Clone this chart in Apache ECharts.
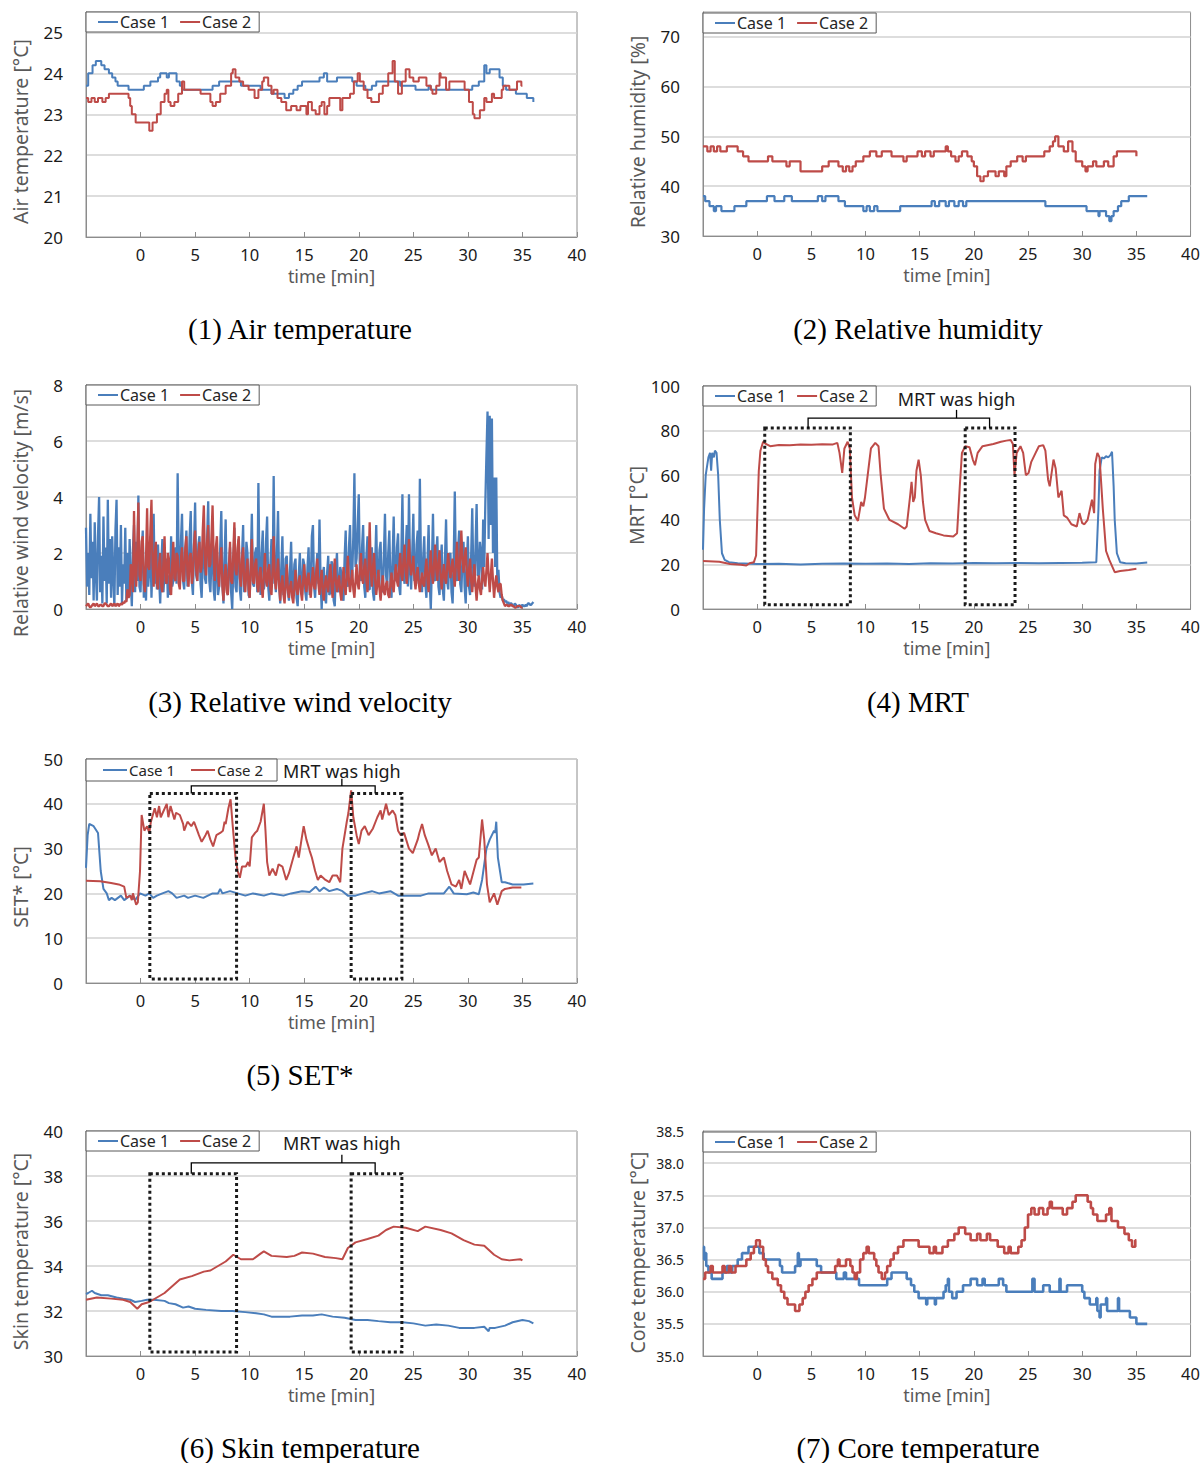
<!DOCTYPE html>
<html><head><meta charset="utf-8">
<script src="https://cdn.jsdelivr.net/npm/echarts@6/dist/echarts.min.js"></script>
<style>html,body{margin:0;padding:0;background:#fff}#c{width:1203px;height:1463px}</style>
</head><body><div id="c"></div>
<script>
// ---------------- DATA (time [min], value) ----------------
const seriesNames = ['Case 1', 'Case 2'];

const airC1 = [[-5.0,23.7],[-4.8,24.0],[-4.4,24.2],[-4.1,24.3],[-3.6,24.2],[-3.3,24.1],[-2.9,24.0],[-2.6,23.9],[-2.3,23.8],[-2.1,23.7],[-1.1,23.6],[0.3,23.7],[0.9,23.8],[1.6,23.9],[1.8,24.0],[2.4,23.9],[2.6,24.0],[3.3,23.8],[3.6,23.7],[3.8,23.6],[6.6,23.7],[7.2,23.8],[9.2,23.7],[11.0,23.6],[12.0,23.5],[13.2,23.4],[13.6,23.5],[14.0,23.6],[14.4,23.7],[14.8,23.8],[16.4,23.9],[16.8,24.0],[17.1,23.8],[18.0,23.9],[19.4,23.8],[19.8,23.7],[20.6,23.6],[21.2,23.7],[21.6,23.8],[23.8,23.7],[25.2,23.6],[26.4,23.7],[26.6,23.6],[30.4,23.7],[31.0,23.8],[31.5,24.2],[31.7,24.0],[32.0,24.1],[32.9,23.9],[33.2,23.7],[33.5,23.6],[34.4,23.5],[35.4,23.4],[36.0,23.3]];
const airC2 = [[-5.0,23.4],[-4.8,23.3],[-4.5,23.4],[-4.2,23.3],[-3.9,23.4],[-3.5,23.3],[-3.2,23.4],[-2.9,23.5],[-1.1,23.4],[-0.95,23.2],[-0.8,23.0],[-0.45,22.8],[0.8,22.6],[1.1,22.8],[1.5,23.0],[1.85,23.3],[2.2,23.5],[2.4,23.6],[2.55,23.3],[2.75,23.2],[3.1,23.3],[3.45,23.5],[3.8,23.8],[4.0,23.6],[5.5,23.5],[6.4,23.3],[6.6,23.2],[6.9,23.3],[7.3,23.5],[7.8,23.7],[8.3,24.0],[8.45,24.1],[8.7,23.9],[9.05,23.8],[9.4,23.7],[9.9,23.6],[10.45,23.4],[10.8,23.6],[11.15,23.8],[11.3,23.9],[11.7,23.7],[12.0,23.5],[12.2,23.6],[12.55,23.4],[12.9,23.3],[13.35,23.1],[13.8,23.2],[14.3,23.1],[14.65,23.2],[15.2,23.0],[15.35,23.3],[15.7,23.1],[16.05,23.0],[16.4,23.2],[16.6,23.3],[16.85,23.0],[17.1,23.2],[17.3,23.4],[18.3,23.1],[18.5,23.4],[19.2,23.5],[19.55,23.8],[19.9,24.0],[20.1,23.8],[20.45,23.6],[20.8,23.4],[21.15,23.3],[21.85,23.5],[22.2,23.7],[22.7,24.0],[23.1,24.3],[23.3,23.8],[23.6,23.5],[23.95,23.8],[24.3,24.1],[24.65,23.9],[25.0,23.8],[25.5,23.9],[26.2,23.7],[26.6,23.6],[26.75,23.5],[27.1,23.7],[27.4,24.0],[27.5,23.9],[28.0,23.6],[28.3,23.8],[29.7,23.6],[30.1,23.3],[30.45,23.0],[30.6,22.9],[31.1,23.1],[31.5,23.4],[31.7,23.3],[32.2,23.5],[32.4,23.4],[33.1,23.6],[33.25,23.7],[33.8,23.6],[34.5,23.8],[34.9,23.7],[35.0,23.7]];

const rhC1 = [[-5,38],[-4.8,37],[-4.4,36],[-4.0,35],[-3.8,36],[-3.3,35],[-2.1,36],[-1.0,37],[0.9,38],[1.6,37],[2.5,38],[3.2,37],[5.6,38],[6.0,37],[6.3,38],[7.5,37],[8.1,36],[9.8,35],[10.1,36],[10.4,35],[10.8,36],[11.1,35],[13.2,36],[16.1,37],[16.4,36],[16.8,37],[17.4,36],[17.7,37],[18.2,36],[18.6,37],[19.0,36],[19.3,37],[26.6,36],[30.4,35],[31.5,34],[31.6,35],[32.2,34],[32.5,33],[32.7,34],[32.9,35],[33.3,36],[33.6,37],[34.3,38],[36.0,38]];
const rhC2 = [[-5,48],[-4.6,47],[-4.3,48],[-4.0,47],[-3.7,48],[-3.4,47],[-2.8,48],[-1.8,47],[-1.3,46],[-0.8,45],[1.0,46],[1.4,45],[2.7,44],[3.0,45],[4.0,43],[6.0,44],[6.6,45],[7.5,44],[7.9,43],[8.2,44],[8.5,43],[8.8,44],[9.1,45],[9.8,46],[10.4,47],[11.0,46],[11.5,47],[12.4,46],[13.5,45],[13.8,46],[14.8,47],[15.2,46],[15.5,47],[16.0,46],[16.3,47],[17.4,48],[17.6,47],[17.9,46],[18.3,45],[18.6,46],[18.9,47],[19.4,46],[19.8,45],[20.0,44],[20.3,42],[20.6,41],[20.9,42],[21.3,43],[22.0,42],[22.3,43],[22.8,42],[23.0,44],[23.4,45],[24.0,46],[24.5,45],[24.8,46],[26.5,47],[27.0,48],[27.3,49],[27.5,50],[27.8,48],[28.3,47],[28.7,49],[29.1,47],[29.4,45],[30.0,44],[30.3,43],[30.5,44],[31.0,45],[31.3,44],[32.0,45],[32.4,44],[32.9,46],[33.2,47],[35.0,46]];

// wind: values sampled every 0.1 min from windStart
const windStart = -5.0;
const windC1Values = [
 2.9,0.8,2.0,0.5,3.4,1.1,2.4,0.3,3.1,1.3, 0.3,2.6,4.0,0.6,1.9,0.2,3.3,1.0,2.2,0.2,
 3.9,0.9,2.5,0.4,2.6,1.2,0.1,2.8,3.9,0.5, 2.2,0.8,3.0,0.2,1.6,0.9,2.9,0.3,2.0,0.5,
 2.5,1.0,0.1,2.1,3.0,0.6,2.4,1.0,4.05,0.8, 0.6,2.0,2.8,0.4,1.5,0.3,2.2,0.8,1.4,2.6,
 0.4,1.8,3.4,0.9,2.0,0.7,2.3,1.1,0.2,1.6, 2.5,0.6,1.4,0.9,1.8,0.4,1.2,0.5,2.6,0.8,
 1.0,2.0,2.2,0.9,4.85,1.5,0.8,2.4,3.4,1.0, 0.7,1.9,2.8,0.8,1.2,2.6,3.5,1.0,0.5,2.2,
 3.8,1.2,1.0,2.3,2.6,0.9,0.4,1.9,2.9,1.1, 0.9,2.5,3.85,1.0,0.6,1.8,2.4,0.7,0.3,1.5,
 2.0,0.5,0.8,2.2,3.5,0.9,0.2,1.8,3.2,0.7, 0.5,1.6,2.2,0.6,0.0,1.4,2.9,0.8,0.6,2.0,
 2.5,0.7,0.3,1.9,3.0,0.6,0.9,2.4,2.0,0.5, 0.4,1.7,3.4,0.9,0.8,2.0,2.2,0.6,4.5,1.2,
 0.5,2.0,2.8,0.7,1.0,2.4,3.3,0.8,0.3,1.6, 2.5,0.9,4.75,1.3,0.6,2.0,3.5,0.9,0.2,1.5,
 2.6,0.5,0.7,1.8,1.9,0.6,0.3,1.4,2.4,0.6, 0.8,1.6,1.8,0.4,0.1,1.2,2.0,0.7,0.5,1.8,
 1.6,0.6,0.3,1.5,2.2,0.5,0.9,2.6,3.0,0.8, 0.4,1.4,2.0,0.9,3.2,1.0,0.0,1.2,1.5,0.4,
 0.2,1.3,1.9,0.5,0.6,1.7,1.6,0.3,0.1,1.4, 2.0,0.6,0.7,1.5,1.3,0.4,0.3,1.8,2.8,0.9,
 0.8,2.2,3.0,1.0,1.2,2.6,4.85,1.5,1.8,3.0, 4.1,1.3,1.0,2.2,3.0,0.8,0.4,1.9,2.6,0.7,
 0.7,1.8,2.2,0.6,0.3,1.6,3.0,1.0,0.9,2.1, 2.4,0.8,0.6,1.9,3.4,1.2,0.8,2.0,2.8,0.9,
 0.4,1.8,3.3,1.1,1.0,2.2,2.7,0.8,0.5,1.9, 4.1,1.2,0.9,2.1,3.0,0.8,4.1,1.4,0.7,2.0,
 3.4,1.0,1.1,2.3,2.8,0.9,4.65,1.6,0.6,1.8, 2.6,0.9,0.4,1.7,3.0,1.0,0.0,1.5,3.4,1.1,
 1.0,2.0,2.6,0.8,0.5,1.6,2.3,0.7,0.3,1.8, 3.2,1.0,0.7,1.9,2.0,0.6,0.2,1.7,4.2,1.3,
 1.0,2.1,2.8,0.9,0.6,1.8,2.4,0.8,0.2,1.6, 2.6,0.8,0.5,1.9,3.6,1.1,0.8,2.2,3.75,1.2,
 1.2,2.4,2.0,0.7,3.2,1.5,3.8,5.5,7.05,2.5, 6.9,3.0,6.8,2.0,4.7,1.5,4.7,0.8,1.4,0.6,
 0.4,0.5,0.3,0.35,0.25,0.3,0.2,0.25,0.15,0.2, 0.2,0.1,0.1,0.2,0.15,0.1,0.05,0.15,0.1,0.1,
 0.15,0.1,0.1,0.15,0.1,0.2,0.2,0.15,0.15,0.2, 0.25
];
const windC2Values = [
 0.1,0.15,0.2,0.1,0.05,0.1,0.15,0.2,0.1,0.15, 0.2,0.1,0.1,0.15,0.15,0.1,0.1,0.2,0.2,0.15,
 0.1,0.1,0.15,0.2,0.1,0.15,0.2,0.1,0.15,0.2, 0.1,0.15,0.2,0.15,0.25,0.2,0.3,0.25,0.7,0.4,
 0.5,1.6,1.2,0.6,3.5,1.4,0.8,2.2,3.8,1.2, 1.0,2.4,2.6,0.9,0.6,1.8,3.6,1.5,1.4,2.8,
 3.9,1.6,0.8,2.0,2.4,0.9,0.7,1.6,2.0,0.8, 0.6,1.8,2.6,1.0,0.9,2.0,1.8,0.7,0.5,1.6,
 2.4,1.1,1.0,2.0,1.9,0.9,0.7,1.8,2.2,1.0, 1.0,2.2,2.6,1.2,0.8,1.9,2.0,0.9,1.2,2.3,
 2.8,1.4,1.0,2.0,2.4,1.3,1.5,2.8,3.7,1.6, 1.2,2.4,3.0,1.5,1.6,2.6,3.7,1.8,1.0,2.2,
 2.6,1.2,0.8,1.7,2.2,0.8,0.3,1.2,1.6,0.6, 0.5,1.5,2.4,1.0,0.9,2.0,3.1,1.4,1.2,2.2,
 2.6,1.1,0.8,1.8,2.2,0.9,0.6,1.4,1.8,0.7, 0.4,1.5,2.5,1.0,0.9,1.6,1.8,0.8,0.6,1.3,
 1.5,0.7,0.4,1.3,2.0,1.0,0.8,1.4,1.6,0.7, 0.5,1.4,2.6,1.1,0.7,1.3,1.8,0.8,0.3,0.9,
 1.2,0.5,0.2,0.9,1.6,0.7,0.4,0.8,1.0,0.4, 0.2,0.8,1.4,0.7,0.5,1.0,1.2,0.6,0.3,1.0,
 1.6,0.9,0.6,1.1,1.3,0.7,0.4,1.0,1.5,0.8, 0.7,1.3,1.8,0.9,0.5,1.0,1.4,0.6,0.3,0.9,
 1.2,0.8,0.6,1.2,1.6,0.8,0.4,1.1,1.8,1.0, 0.6,1.0,1.2,0.6,0.3,0.9,1.5,0.8,0.5,1.2,
 1.9,1.0,0.6,1.0,1.4,0.7,0.4,1.0,1.6,0.9, 0.7,1.4,2.0,1.1,0.9,1.5,1.8,1.0,0.6,1.6,
 3.1,1.4,0.8,1.5,2.0,1.0,0.5,0.9,1.4,0.7, 0.3,0.8,1.2,0.6,0.5,0.9,1.0,0.5,0.4,0.9,
 1.3,0.8,0.6,1.2,1.6,1.0,0.8,1.5,2.0,1.2, 1.0,1.8,2.3,1.3,0.9,1.7,2.5,1.6,1.2,1.5,
 1.9,1.1,0.7,1.2,1.5,0.9,0.6,1.0,1.3,0.9, 0.8,1.4,1.8,1.0,0.6,1.5,2.1,1.3,0.9,1.6,
 2.3,1.4,1.0,1.7,2.1,1.2,0.7,1.2,1.6,1.1, 0.9,1.5,2.0,1.4,1.1,1.5,1.8,1.2,0.8,1.6,
 2.4,1.5,1.0,1.9,2.8,1.8,1.3,1.8,2.2,1.3, 0.8,1.4,1.8,1.0,0.6,1.2,1.6,0.8,0.3,0.9,
 1.2,0.7,0.5,1.1,1.5,1.0,0.8,1.4,2.0,1.2, 0.6,1.2,1.8,1.0,0.4,0.9,1.2,0.8,0.6,0.9,
 0.9,0.5,0.3,0.2,0.1,0.15,0.15,0.1,0.1,0.15, 0.15,0.1,0.1,0.05,0.05,0.1,0.1,0.1,0.1,0.05,
 0.05
];

const mrtC1 = [[-5.0,26.6],[-4.9,45],[-4.75,60],[-4.5,68],[-4.35,70],[-4.25,62],[-4.15,70],[-4.0,68],[-3.9,71],[-3.75,70],[-3.6,60],[-3.45,40],[-3.25,25],[-3.0,22],[-2.6,21],[-1.8,20.5],[0,20.2],[2,20.3],[4,20.0],[6,20.3],[8,20.4],[10,20.3],[12,20.4],[14,20.2],[16,20.5],[18,20.4],[20,20.6],[22,20.5],[24,20.6],[26,20.5],[28,20.6],[30,20.7],[31.3,21.0],[31.5,45],[31.6,62],[31.8,68],[32.0,67.5],[32.2,68.5],[32.4,68],[32.6,69],[32.75,70.5],[32.9,55],[33.0,40],[33.2,25],[33.5,21],[34.0,20.5],[35,20.4],[36.0,20.8]];
const mrtC2 = [[-5.0,21.5],[-3.5,21.2],[-2.5,20.2],[-1.5,19.8],[-1.0,19.5],[-0.7,20.5],[-0.3,21],[-0.1,24],[0.0,40],[0.15,62],[0.3,71],[0.55,75],[0.8,74],[1.2,73],[2,73.5],[3,73.4],[4,73.8],[5,73.6],[6,73.9],[7,73.8],[7.4,74.5],[7.6,70],[7.85,61],[8.05,72],[8.35,75],[8.55,72],[8.75,50],[9.0,42],[9.3,39.5],[9.6,48],[9.8,46],[9.95,50],[10.2,60],[10.5,72],[10.9,74.5],[11.2,73],[11.4,60],[11.7,45],[12.2,40],[12.4,39.5],[13.0,38],[13.6,36],[13.8,37],[14.1,50],[14.25,57],[14.4,48],[14.55,50],[14.7,62],[14.9,67],[15.1,60],[15.3,48],[15.5,40],[15.9,35],[16.5,34],[17.2,33],[18.1,32.5],[18.45,34],[18.7,55],[18.9,70],[19.2,73],[19.6,72.5],[19.9,67],[20.1,64.5],[20.35,70],[20.8,73],[21.8,74],[22.5,75],[23.0,75.5],[23.4,75.8],[23.6,74],[23.75,60],[23.95,70],[24.3,73],[24.55,70],[24.8,60],[25.05,61],[25.3,66],[25.7,70],[26.0,73],[26.4,73.5],[26.6,71],[26.85,58],[27.0,55],[27.35,67],[27.55,63],[27.8,50],[28.1,53],[28.3,42],[28.6,41],[29.0,38],[29.5,37],[29.75,43],[30.0,38.5],[30.2,38],[30.5,40],[30.9,49],[31.1,43],[31.2,65],[31.4,70],[31.6,68],[31.9,45],[32.2,26],[32.5,22],[33.0,16.5],[33.5,17],[34.3,17.5],[35.0,18]];

const setC1 = [[-5.0,25.7],[-4.85,33],[-4.7,35.5],[-4.3,35],[-3.9,33.5],[-3.65,25],[-3.4,21],[-3.1,20],[-2.9,18.5],[-2.65,19],[-2.35,18.5],[-1.8,19.5],[-1.5,18.5],[-0.95,19.5],[-0.5,18.5],[-0.05,20],[0.45,19.5],[0.8,20],[1.15,19],[1.5,19.5],[2.0,20],[2.55,20.5],[2.9,20],[3.3,19],[4.0,19.5],[4.35,19],[5.0,19.5],[5.75,19],[6.6,20],[7.1,20],[7.3,21],[7.5,20],[8.2,20.5],[8.9,20],[9.6,19.5],[10.3,20],[11.3,19.5],[12.0,20],[13.1,19.5],[13.8,20],[14.8,20.5],[15.5,20.3],[16.05,21.5],[16.4,20.5],[16.8,21.3],[17.3,20.5],[18.0,21],[18.5,20.5],[19.0,19.5],[19.7,19.5],[20.4,20],[21.2,20.5],[21.85,20],[22.9,20.5],[23.6,19.5],[25.0,19.5],[25.7,19.5],[26.4,20],[27.8,20],[28.3,21.5],[28.7,20],[29.9,19.8],[30.5,20.2],[31.0,19.8],[31.3,23],[31.7,30],[32.0,32],[32.4,34],[32.5,33.5],[32.6,36],[32.75,28],[33.1,22.5],[33.4,22.5],[34.1,22],[35.1,22],[36.0,22.2]];
const setC2 = [[-5.0,22.8],[-3.7,22.7],[-2.7,22.3],[-2.0,22],[-1.5,21.5],[-1.3,19],[-0.95,19.5],[-0.8,18.5],[-0.7,20],[-0.4,17.5],[-0.25,18],[-0.05,25],[0.1,37.5],[0.35,34],[0.6,35],[0.8,33.5],[0.95,36],[1.3,39],[1.5,37],[1.7,39.5],[1.85,37],[2.4,40],[2.55,37],[2.75,39.5],[3.1,36.5],[3.25,38],[3.6,37.5],[3.9,35.5],[4.0,34],[4.3,36],[4.65,35],[4.9,36],[5.2,34],[5.35,33],[5.6,31.5],[5.95,33],[6.15,34],[6.4,32],[6.65,30.5],[6.95,33],[7.3,33.5],[7.55,34],[7.7,36],[7.8,35.5],[8.05,39],[8.25,41],[8.45,35],[8.7,28],[8.9,25],[9.1,23.5],[9.3,26],[9.65,26],[9.85,27],[10.0,26],[10.2,32.5],[10.5,33.5],[10.7,34],[11.0,36],[11.3,40],[11.45,34],[11.6,27],[11.8,24],[12.1,25.5],[12.4,24],[12.65,26.5],[13.0,26],[13.35,23],[13.6,24.5],[14.0,28],[14.3,30.5],[14.5,28],[14.75,32],[14.95,35],[15.2,32],[15.5,29.5],[15.7,28],[16.0,25],[16.25,23],[16.5,24],[16.95,23],[17.3,22.5],[17.6,24],[18.0,24],[18.3,22.5],[18.5,30],[18.9,36],[19.05,38],[19.3,43],[19.5,37],[19.8,33],[20.0,31],[20.25,34],[20.55,35],[20.9,33],[21.3,34.5],[21.7,37],[22.0,38.5],[22.15,36.5],[22.5,40],[22.75,37.5],[23.1,38.5],[23.35,37.5],[23.6,34],[23.85,33],[24.15,33.5],[24.6,30],[24.95,29],[25.4,32],[25.55,33.5],[25.8,35.5],[26.05,33],[26.35,31],[26.7,28.5],[27.05,30],[27.4,27],[27.8,28],[28.1,25],[28.5,22],[28.9,21.5],[29.2,23],[29.4,21],[29.7,25],[30.2,22],[30.8,27.5],[31.0,28],[31.3,36.5],[31.5,32],[31.75,22],[32.0,18],[32.4,20],[32.7,17.5],[33.1,20.5],[33.4,21],[34.1,21.3],[34.9,21.3]];

const skinC1 = [[-5.0,32.75],[-4.8,32.8],[-4.45,32.9],[-4.2,32.8],[-3.6,32.7],[-3.0,32.7],[-2.2,32.6],[-1.6,32.55],[-0.95,32.5],[-0.5,32.4],[0.1,32.45],[0.6,32.5],[1.2,32.5],[2.2,32.45],[2.6,32.35],[3.2,32.3],[3.9,32.15],[4.4,32.2],[5.0,32.1],[6.0,32.05],[7.4,32.0],[8.4,32.0],[9.6,31.95],[10.6,31.9],[11.3,31.85],[12.0,31.75],[13.7,31.75],[14.8,31.8],[15.8,31.8],[16.6,31.85],[17.6,31.75],[18.7,31.7],[19.7,31.6],[20.8,31.6],[21.8,31.55],[22.9,31.5],[24.0,31.5],[25.0,31.45],[26.1,31.35],[27.1,31.4],[28.2,31.35],[29.2,31.25],[30.6,31.25],[31.5,31.3],[31.9,31.1],[32.0,31.25],[32.5,31.25],[33.4,31.35],[34.1,31.5],[35.0,31.6],[35.6,31.55],[36.0,31.45]];
const skinC2 = [[-5.0,32.5],[-4.0,32.6],[-2.7,32.55],[-1.6,32.5],[-0.95,32.4],[-0.3,32.1],[0.1,32.3],[0.8,32.4],[1.5,32.6],[2.2,32.8],[2.9,33.1],[3.6,33.4],[4.7,33.55],[5.8,33.75],[6.4,33.8],[7.1,34.0],[7.8,34.2],[8.5,34.5],[9.2,34.3],[10.3,34.3],[11.0,34.55],[11.3,34.65],[12.0,34.45],[13.4,34.4],[14.1,34.45],[14.8,34.6],[15.8,34.55],[16.9,34.4],[17.9,34.35],[18.5,34.3],[19.0,34.8],[19.7,35.05],[20.8,35.2],[21.8,35.35],[22.5,35.6],[23.2,35.75],[24.3,35.7],[25.4,35.55],[26.1,35.75],[27.5,35.6],[28.5,35.45],[29.6,35.15],[30.6,34.95],[31.5,34.9],[32.4,34.5],[33.1,34.3],[33.8,34.25],[34.8,34.3],[35.0,34.25]];

const coreC1 = [[-5.0,36.7],[-4.9,36.5],[-4.8,36.6],[-4.7,36.4],[-4.5,36.3],[-4.2,36.2],[-3.2,36.3],[-2.8,36.4],[-2.6,36.3],[-2.3,36.4],[-1.8,36.5],[-1.4,36.6],[-0.8,36.7],[0.2,36.6],[0.6,36.5],[2.1,36.4],[2.3,36.3],[3.5,36.4],[3.75,36.6],[3.85,36.4],[4.0,36.5],[5.5,36.4],[5.9,36.3],[7.3,36.2],[8.0,36.3],[8.2,36.2],[9.4,36.1],[12.0,36.2],[12.4,36.3],[13.8,36.2],[14.2,36.1],[14.5,36.0],[14.9,35.9],[15.6,35.8],[15.7,35.9],[16.4,35.8],[16.5,35.9],[17.2,36.0],[17.4,36.1],[17.6,36.2],[17.7,36.0],[18.0,35.9],[18.4,36.0],[19.0,36.1],[19.7,36.2],[20.3,36.1],[20.8,36.2],[21.0,36.1],[22.3,36.2],[22.7,36.1],[23.0,36.0],[25.4,36.2],[25.6,36.0],[26.4,36.1],[27.0,36.0],[27.9,36.2],[28.0,36.0],[28.6,36.1],[30.0,36.0],[30.2,35.9],[30.7,35.8],[31.3,35.9],[31.4,35.7],[31.6,35.6],[31.7,35.8],[32.2,35.9],[32.3,35.7],[33.3,35.9],[33.4,35.7],[34.4,35.6],[35.0,35.5],[36.0,35.5]];
const coreC2 = [[-5.0,36.2],[-4.8,36.3],[-4.3,36.4],[-4.1,36.3],[-3.2,36.4],[-3.0,36.3],[-2.6,36.4],[-2.4,36.3],[-2.0,36.4],[-1.0,36.5],[-0.6,36.6],[-0.3,36.7],[-0.1,36.8],[0.25,36.7],[0.55,36.5],[0.8,36.4],[1.0,36.3],[1.4,36.2],[1.9,36.1],[2.2,36.0],[2.5,35.9],[2.8,35.8],[3.5,35.7],[3.9,35.8],[4.2,35.9],[4.45,36.0],[4.75,36.1],[5.1,36.2],[5.5,36.3],[7.2,36.4],[7.45,36.5],[7.6,36.4],[8.2,36.5],[8.6,36.4],[8.8,36.3],[9.0,36.2],[9.2,36.3],[9.5,36.5],[9.8,36.6],[10.1,36.7],[10.3,36.6],[10.8,36.5],[11.0,36.4],[11.2,36.3],[11.5,36.2],[11.8,36.3],[12.0,36.4],[12.3,36.5],[12.6,36.6],[13.0,36.7],[13.5,36.8],[14.9,36.7],[15.9,36.6],[16.3,36.7],[16.5,36.6],[17.1,36.7],[17.6,36.8],[18.2,36.9],[18.6,37.0],[19.2,36.9],[19.7,36.8],[20.3,36.9],[20.6,36.8],[21.2,36.9],[21.5,36.8],[22.2,36.7],[22.8,36.6],[23.2,36.7],[23.4,36.6],[24.1,36.7],[24.4,36.8],[24.7,37.0],[25.0,37.2],[25.3,37.3],[25.6,37.2],[26.0,37.3],[26.4,37.2],[26.8,37.3],[27.0,37.4],[27.2,37.3],[28.2,37.2],[28.6,37.3],[29.1,37.4],[29.4,37.5],[30.5,37.4],[30.8,37.3],[31.0,37.2],[31.4,37.1],[32.2,37.2],[32.5,37.3],[32.7,37.1],[33.3,37.0],[33.9,36.9],[34.3,36.8],[34.6,36.7],[34.9,36.8],[35.0,36.8]];

// annotation geometry in data units: [xStart, yBottom, xEnd, yTop]
const mrtBoxes = {
  3: [[0.7, 1.9, 8.6, 81.2], [19.2, 1.9, 23.8, 81.2]],
  4: [[0.85, 0.9, 8.8, 42.3], [19.3, 0.9, 23.95, 42.3]],
  5: [[0.85, 30.18, 8.8, 38.1], [19.3, 30.18, 23.95, 38.1]]
};
const brackets = {
  3: {x1: 4.7, x2: 21.45, xm: 18.4, yLine: 85.6, yEnd: 81.2, yTop: 89.3, yText: 94.3},
  4: {x1: 4.65, x2: 21.5, xm: 18.45, yLine: 44.0, yEnd: 42.3, yTop: 45.6, yText: 47.3},
  5: {x1: 4.65, x2: 21.5, xm: 18.45, yLine: 38.58, yEnd: 38.1, yTop: 38.95, yText: 39.45}
};

// ---------------- LAYOUT / STYLE ----------------
const toPairs = (vals) => vals.map((v, i) => [Math.round((windStart + i * 0.1) * 10) / 10, v]);
const FONT = '"Noto Sans", "DejaVu Sans", sans-serif';
const BLUE = '#4a7ebb', RED = '#be4b48';
const panels = [
  {grid:{left:86, top:12, width:491, height:225}, y:{min:20,max:25.5,interval:1}, hideMax:true, name:'Air temperature [°C]', nameShift:7, data:[airC1, airC2], step:true, title:'(1) Air temperature', tx:300, ty:329},
  {grid:{left:703, top:12, width:492, height:224}, y:{min:30,max:75,interval:10}, hideMax:true, name:'Relative humidity [%]', nameShift:8, data:[rhC1, rhC2], step:true, lw:2.2, title:'(2) Relative humidity', tx:918, ty:329},
  {grid:{left:86, top:385, width:491, height:224}, y:{min:0,max:8,interval:2}, name:'Relative wind velocity [m/s]', nameShift:16, data:[toPairs(windC1Values), toPairs(windC2Values)], step:false, lw:2.3, title:'(3) Relative wind velocity', tx:300, ty:702},
  {grid:{left:703, top:386, width:492, height:223}, y:{min:0,max:100,interval:20}, name:'MRT [°C]', nameShift:8, data:[mrtC1, mrtC2], step:false, title:'(4) MRT', tx:918, ty:702},
  {grid:{left:86, top:759, width:491, height:224}, y:{min:0,max:50,interval:10}, name:'SET* [°C]', nameShift:16, data:[setC1, setC2], step:false, title:'(5) SET*', tx:300, ty:1075, wideLegend:true},
  {grid:{left:86, top:1131, width:491, height:225}, y:{min:30,max:40,interval:2}, name:'Skin temperature [°C]', nameShift:8, data:[skinC1, skinC2], step:false, title:'(6) Skin temperature', tx:300, ty:1448},
  {grid:{left:703, top:1131, width:492, height:225}, y:{min:35,max:38.5,interval:0.5}, name:'Core temperature [°C]', nameShift:9, data:[coreC1, coreC2], step:true, lw:2.6, fixed1:true, title:'(7) Core temperature', tx:918, ty:1448}
];

const chart = echarts.init(document.getElementById('c'), null, {renderer:'svg', width:1203, height:1463});

const option = {
  animation: false,
  backgroundColor: '#fff',
  grid: panels.map(p => Object.assign({show:true, borderColor:'#8c8c8c', borderWidth:1, backgroundColor:'#fff'}, p.grid)),
  xAxis: panels.map((p, i) => ({
    gridIndex:i, type:'value', min:-5, max:40, interval:5,
    axisLine:{show:true, onZero:false, lineStyle:{color:'#8c8c8c', width:1}},
    axisTick:{show:true, inside:true, length:5, lineStyle:{color:'#8c8c8c'}},
    splitLine:{show:false},
    axisLabel:{showMinLabel:false, fontSize:16.5, color:'#1a1a1a', margin:9, fontFamily:FONT},
    name:'time [min]', nameLocation:'middle', nameGap:30,
    nameTextStyle:{fontSize:18, color:'#595959', fontFamily:FONT}
  })),
  yAxis: panels.map((p, i) => ({
    gridIndex:i, type:'value', min:p.y.min, max:p.y.max, interval:p.y.interval,
    axisLine:{show:true, onZero:false, lineStyle:{color:'#8c8c8c', width:1}},
    axisTick:{show:false},
    splitLine:{show:true, lineStyle:{color:'#d2d2d2', width:1.5}},
    axisLabel:{
      showMaxLabel: p.hideMax ? false : true,
      fontSize: p.fixed1 ? 14 : 17, color:'#1a1a1a', fontFamily:FONT,
      margin: p.fixed1 ? 19 : 23,
      formatter: p.fixed1 ? (v => v.toFixed(1)) : (v => String(v))
    },
    name:p.name, nameLocation:'middle', nameRotate:90, nameGap:56,
    nameTextStyle:{fontSize:19.5, color:'#595959', fontFamily:FONT, padding:[0, 2 * p.nameShift, 0, 0]}
  })),
  legend: panels.map((p, i) => ({
    left: p.grid.left, top: p.grid.top + (i === 6 || i === 1 ? 1 : 0),
    data: seriesNames, selectedMode:false,
    icon:'rect', itemWidth: p.wideLegend ? 24 : 20, itemHeight:2,
    itemGap: p.wideLegend ? 16 : 11,
    padding: p.wideLegend ? [2, 14, 2, 17] : [1, 8, 1, 12],
    borderColor:'#595959', borderWidth:1, backgroundColor:'#fff',
    textStyle:{fontFamily:FONT, fontSize: p.wideLegend ? 15 : 16, color:'#262626', lineHeight:18, padding:[0,0,0,-3]}
  })),
  series: []
};
panels.forEach((p, i) => {
  p.data.forEach((d, k) => {
    option.series.push({
      type:'line', name:seriesNames[k], xAxisIndex:i, yAxisIndex:i, data:d,
      showSymbol:false, symbol:'none', step: p.step ? 'end' : false,
      lineStyle:{width: p.lw || 2, color: k === 0 ? BLUE : RED}, itemStyle:{color: k === 0 ? BLUE : RED},
      z: 2 + k
    });
  });
});
chart.setOption(option);

// ---------------- titles & annotations ----------------
const gfx = [];
panels.forEach(p => {
  gfx.push({type:'text', x:p.tx, y:p.ty, z:50,
    style:{text:p.title, fill:'#000', font:'29px "Liberation Serif", "DejaVu Serif", serif', align:'center', verticalAlign:'middle'}});
});
Object.keys(mrtBoxes).forEach(key => {
  const i = +key;
  const px = (x, y) => chart.convertToPixel({xAxisIndex:i, yAxisIndex:i}, [x, y]);
  mrtBoxes[i].forEach(b => {
    const a = px(b[0], b[3]), c = px(b[2], b[1]);
    gfx.push({type:'rect', z:60, shape:{x:a[0], y:a[1], width:c[0]-a[0], height:c[1]-a[1]},
      style:{fill:'none', stroke:'#1a1a1a', lineWidth:3, lineDash:[3,3]}});
  });
  const br = brackets[i];
  const p1 = px(br.x1, br.yEnd), p2 = px(br.x1, br.yLine), p3 = px(br.x2, br.yLine), p4 = px(br.x2, br.yEnd);
  gfx.push({type:'polyline', z:60, shape:{points:[p1, p2, p3, p4]}, style:{fill:'none', stroke:'#000', lineWidth:1.3}});
  const m1 = px(br.xm, br.yLine), m2 = px(br.xm, br.yTop);
  gfx.push({type:'polyline', z:60, shape:{points:[m1, m2]}, style:{fill:'none', stroke:'#000', lineWidth:1.3}});
  const t = px(br.xm, br.yText);
  gfx.push({type:'text', x:t[0], y:t[1], z:60,
    style:{text:'MRT was high', fill:'#1a1a1a', font:'18px "Noto Sans", "DejaVu Sans", sans-serif', align:'center', verticalAlign:'middle'}});
});
chart.setOption({graphic: gfx});
</script>
</body></html>
